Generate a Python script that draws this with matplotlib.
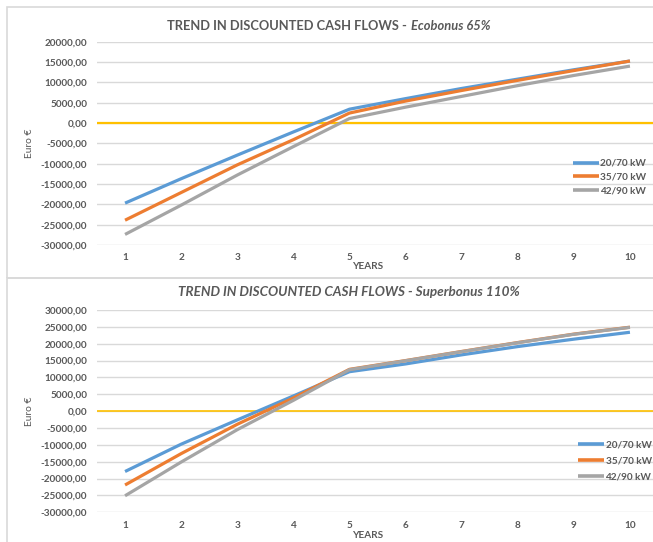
import matplotlib
matplotlib.use("Agg")
import matplotlib.pyplot as plt
from matplotlib.patches import Rectangle

plt.rcParams['font.family'] = ['Lato', 'DejaVu Sans']

years = [1, 2, 3, 4, 5, 6, 7, 8, 9, 10]
series_labels = ["20/70 kW", "35/70 kW", "42/90 kW"]

# Discounted cash flows, Ecobonus 65 %
eco_20_70 = [-19700, -13700, -7900, -2200, 3400, 6000, 8500, 10800, 13100, 15250]
eco_35_70 = [-23900, -17100, -10300, -4100, 2450, 5400, 8000, 10500, 12900, 15250]
eco_42_90 = [-27400, -20200, -12800, -5800, 1100, 3900, 6550, 9200, 11700, 14000]

# Discounted cash flows, Superbonus 110 %
sup_20_70 = [-17900, -9800, -2600, 4500, 11700, 14000, 16700, 19150, 21350, 23400]
sup_35_70 = [-21900, -12600, -3900, 3900, 12400, 15000, 17700, 20350, 22850, 24900]
sup_42_90 = [-25100, -15100, -5500, 3200, 12300, 14950, 17650, 20300, 22800, 24850]

eco_ticks = list(range(-30000, 20001, 5000))
sup_ticks = list(range(-30000, 30001, 5000))

colors = ["#5B9BD5", "#ED7D31", "#A5A5A5"]
TXT = "#595959"
GRID = "#D9D9D9"

W, H = 653, 542
fig = plt.figure(figsize=(W / 100, H / 100), dpi=100)

def fx(px):
    return px / W

def fy(py):
    return 1 - py / H

# chart-area frames
fig.add_artist(Rectangle((fx(7), fy(278)), fx(700), fy(7) - fy(278),
                         transform=fig.transFigure, fill=False,
                         edgecolor=GRID, lw=1.2))
fig.add_artist(Rectangle((fx(7), fy(560)), fx(700), fy(278) - fy(560),
                         transform=fig.transFigure, fill=False,
                         edgecolor=GRID, lw=1.2))


def fmt(v):
    return f"{v:.2f}".replace(".", ",")


def panel(rect, series, ticks, zero_lw, legend_xy, legend_spacing):
    ax = fig.add_axes(rect)
    for vals, lab, c in zip(series, series_labels, colors):
        ax.plot(years, vals, color=c, lw=2.3, label=lab, solid_capstyle='butt')
    ax.axhline(0, color="#FFC000", lw=zero_lw, zorder=1.5)
    ax.set_xlim(0.5, 10.5)
    ax.set_ylim(ticks[0], ticks[-1])
    ax.set_yticks(ticks)
    ax.set_yticklabels([fmt(t) for t in ticks])
    ax.set_xticks(years)
    ax.set_xticklabels([str(y) for y in years])
    ax.grid(axis='y', color=GRID, lw=1.0)
    ax.set_axisbelow(True)
    for s in ax.spines.values():
        s.set_visible(False)
    ax.tick_params(axis='both', length=0, labelsize=7.2, labelcolor=TXT)
    ax.tick_params(axis='y', pad=7)
    ax.tick_params(axis='x', pad=6)
    for lbl in ax.get_xticklabels() + ax.get_yticklabels():
        lbl.set_fontweight('bold')
    leg = ax.legend(loc='center left', bbox_to_anchor=legend_xy,
                    bbox_transform=fig.transFigure, frameon=False,
                    borderpad=0, borderaxespad=0, handlelength=2.55,
                    handletextpad=0.2, labelspacing=legend_spacing,
                    prop={'size': 7.2, 'weight': 'bold'})
    for t in leg.get_texts():
        t.set_color(TXT)
    for h in leg.get_lines():
        h.set_linewidth(2.6)
    return ax


ax1 = panel([fx(97), fy(245), fx(658 - 97), fy(41.7) - fy(245)],
            [eco_20_70, eco_35_70, eco_42_90], eco_ticks, 1.6,
            (fx(573), fy(177)), 0.45)
ax2 = panel([fx(97), fy(512.3), fx(658 - 97), fy(310) - fy(512.3)],
            [sup_20_70, sup_35_70, sup_42_90], sup_ticks, 1.2,
            (fx(578), fy(461)), 0.7)

# titles
t1 = fig.text(fx(167), fy(26), "TREND IN DISCOUNTED CASH FLOWS -",
              ha='left', va='center', fontsize=9.3, fontweight='bold', color=TXT)
ax1.annotate("Ecobonus 65%", xy=(1, 0.5), xycoords=t1, xytext=(2.8, 0),
             textcoords='offset points', ha='left', va='center',
             fontsize=9.3, fontweight='bold', fontstyle='italic', color=TXT)
fig.text(fx(178), fy(292), "TREND IN DISCOUNTED CASH FLOWS - Superbonus 110%",
         ha='left', va='center', fontsize=9.7, fontweight='bold',
         fontstyle='italic', color=TXT)

# axis titles
for ax, cy, yy in [(ax1, 143, 266.5), (ax2, 411, 535)]:
    fig.text(fx(30), fy(cy), "Euro €", rotation=90, ha='center', va='center',
             fontsize=7.4, color=TXT)
    fig.text(fx(368), fy(yy), "YEARS", ha='center', va='center',
             fontsize=7.2, fontweight='bold', color=TXT)

fig.savefig("out.png", dpi=100)
